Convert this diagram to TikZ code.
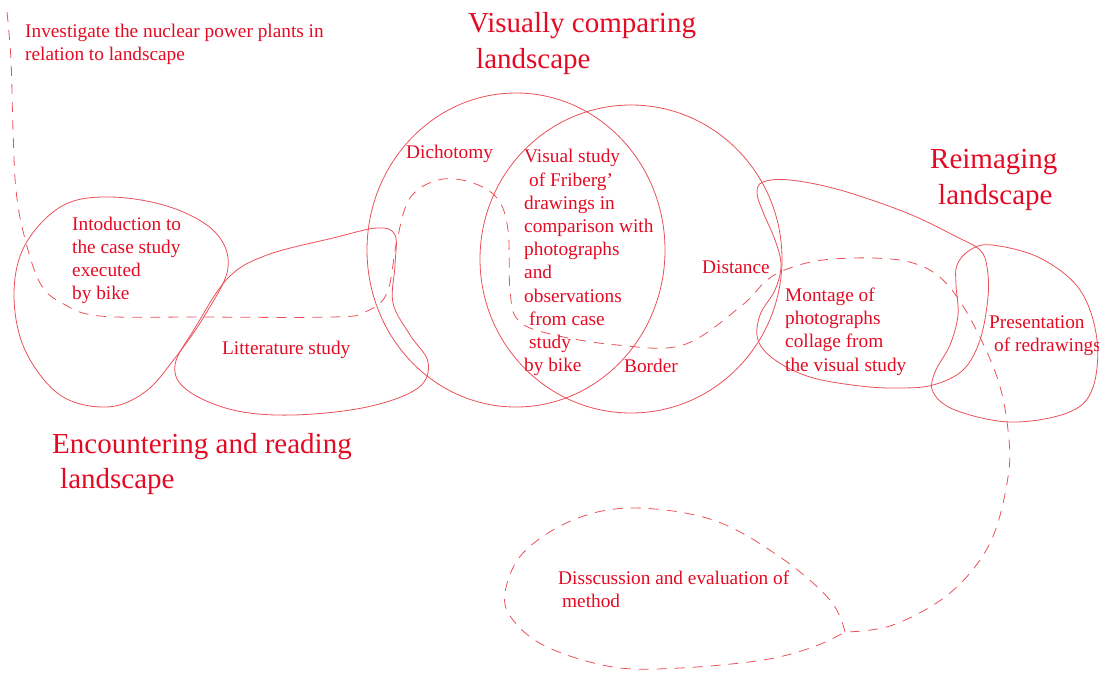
\documentclass[tikz,border=0pt]{standalone}
\usepackage{fontspec}
\setmainfont{Liberation Serif}
\usepackage{tikz}
\usetikzlibrary{positioning}
\definecolor{txtred}{RGB}{228,10,35}
\definecolor{lnred}{RGB}{235,80,90}

\begin{document}
\begin{tikzpicture}[
    x=1pt, y=-1pt,
    lbl/.style={
      text=txtred, font=\fontsize{19.3}{23.2}\selectfont,
      anchor=north west, inner sep=0pt, align=left, yshift=16.24pt,
      execute at begin node=\strut
    },
    bigtitle/.style={
      text=txtred, font=\fontsize{29}{35.5}\selectfont,
      anchor=north west, inner sep=0pt, align=left, yshift=24.85pt,
      execute at begin node=\strut
    },
    blob/.style={draw=lnred, line width=0.8pt},
    route/.style={draw=lnred, line width=0.8pt, dash pattern=on 10pt off 8pt},
  ]
  \useasboundingbox (0,0) rectangle (1099,673);

  \draw[blob] plot[smooth cycle, tension=0.6] coordinates {
    (110,197) (170,207) (215,232) (228,268) (205,315) (175,358) (145,392)
    (107,407) (60,395) (25,350) (14,295) (25,245) (62,206)};
  \draw[blob] plot[smooth cycle, tension=0.6] coordinates {
    (175,365) (195,328) (228,278) (267,255) (333,238) (377,228) (395,235)
    (395,265) (393,303) (410,335) (428,362) (418,388) (367,407) (293,415)
    (233,410) (187,390)};
  \draw[blob] (516,250) ellipse [x radius=149, y radius=157];
  \draw[blob] (631,259) ellipse [x radius=151, y radius=154];
  \draw[blob] plot[smooth cycle, tension=0.6] coordinates {
    (763,182) (790,180) (840,190) (907,213) (957,237) (980,250) (987,267)
    (988,297) (980,340) (963,370) (933,385) (900,388) (860,386) (810,377)
    (775,360) (758,340) (760,315) (775,290) (781,265) (775,240) (763,212)
    (757,193)};
  \draw[blob] plot[smooth cycle, tension=0.6] coordinates {
    (957,265) (970,250) (992,245) (1040,258) (1080,290) (1097,340)
    (1092,390) (1067,413) (1010,422) (955,410) (933,392) (935,372)
    (950,345) (958,315) (956,285)};

  \draw[route] plot[smooth, tension=0.6] coordinates {
    (7,12) (11,60) (13,130) (16,190) (24,235) (40,283) (62,303) (100,316)
    (200,317) (333,317) (365,312) (387,293) (397,240) (410,198) (438,180)
    (470,182) (497,198) (508,230) (510,290) (518,320) (550,334) (617,345)
    (683,345) (740,307) (767,280) (790,268) (823,260) (873,258) (913,263)
    (943,280) (970,318) (997,377) (1008,430) (1008,477) (990,543) (950,593)
    (893,625) (845,632)};
  \draw[route] plot[smooth, tension=0.6] coordinates {
    (845,632) (830,600) (780,557) (713,520) (633,508) (573,520) (523,553)
    (505,593) (513,620) (547,647) (613,667) (680,668) (763,660) (813,647)
    (845,632)};

  \node[lbl] (invest) at (25,40) {Investigate the nuclear power plants in\\relation to landscape};
  \node[bigtitle] (visual) at (468,37.5) {Visually comparing\\\hspace{8pt}landscape};
  \node[bigtitle] (reimag) at (930,174) {Reimaging\\\hspace{8pt}landscape};
  \node[bigtitle] (encount) at (52,458) {Encountering and reading\\\hspace{8pt}landscape};
  \node[lbl] (intro) at (72,233) {Intoduction to\\the case study\\executed\\by bike};
  \node[lbl] (litt) at (222,354) {Litterature study};
  \node[lbl] (dicho) at (406,158) {Dichotomy};
  \node[lbl] (study) at (524,165.5) {Visual study\\\hspace{5pt}of Friberg’\\drawings in\\comparison with\\photographs\\and\\observations\\\hspace{5pt}from case\\\hspace{5pt}study\\by bike};
  \node[lbl] (dist) at (702,273) {Distance};
  \node[lbl] (border) at (624,372) {Border};
  \node[lbl] (montage) at (785,304) {Montage of\\photographs\\collage from\\the visual study};
  \node[lbl] (present) at (989,332) {Presentation\\\hspace{5pt}of redrawings};
  \node[lbl] (discuss) at (558,587) {Disscussion and evaluation of\\\hspace{4pt}method};
\end{tikzpicture}
\end{document}
